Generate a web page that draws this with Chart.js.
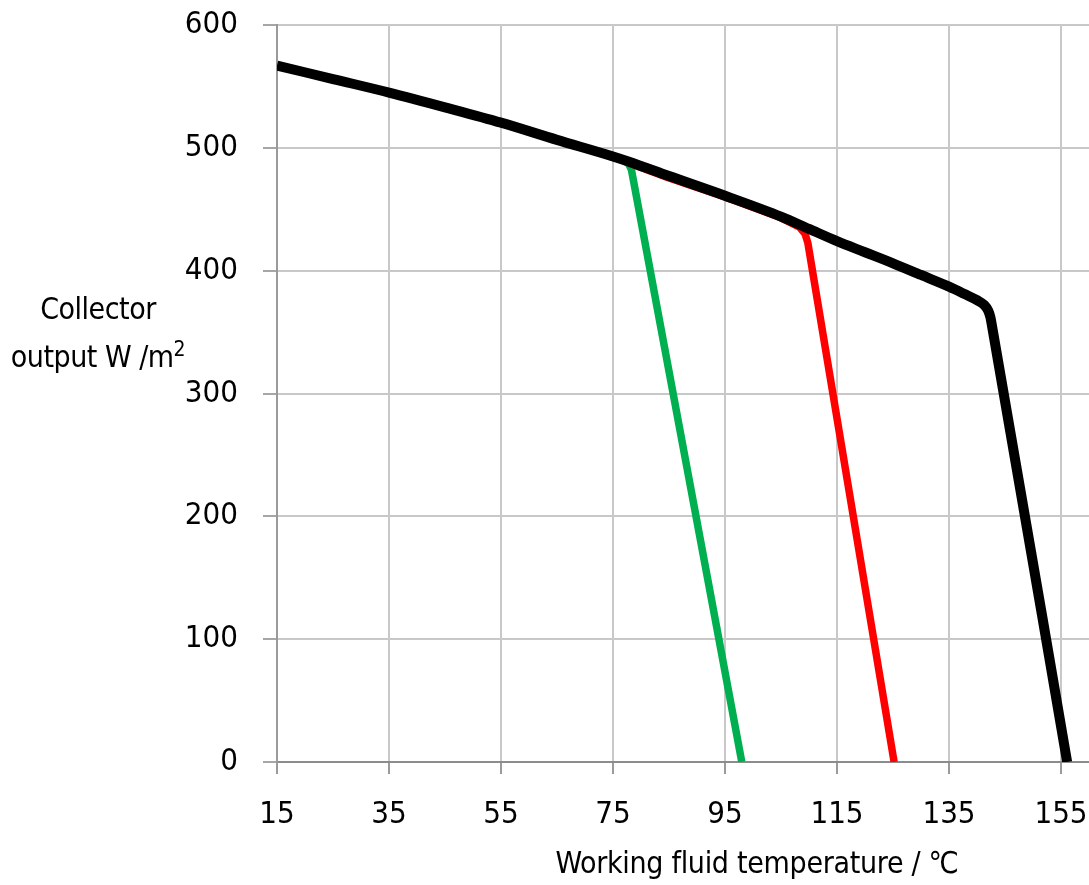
<!DOCTYPE html>
<html>
<head>
<meta charset="utf-8">
<script src="https://cdn.jsdelivr.net/npm/chart.js@4"></script>
<style>
  html, body { margin: 0; padding: 0; background: #ffffff; }
  #wrap { position: relative; width: 1089px; height: 885px; }
  canvas { position: absolute; left: 0; top: 0; }
  .lbl { position: absolute; font-family: "Liberation Sans Narrow", "DejaVu Sans Condensed", "Roboto", sans-serif; color: #000; white-space: nowrap; }
  #ytitle { left: 0; width: 196px; top: 285px; text-align: center; font-size: 30px; line-height: 48px; letter-spacing: -0.5px; }
  #xtitle { left: 457px; width: 600px; top: 841px; text-align: center; font-size: 30px; line-height: 44px; letter-spacing: -0.3px; }
</style>
</head>
<body>
<div id="wrap">
  <canvas id="c" width="1089" height="885"></canvas>
  <div class="lbl" id="ytitle">Collector<br>output W /m<sup style="font-size:21px;vertical-align:11px;line-height:0">2</sup></div>
  <div class="lbl" id="xtitle">Working fluid temperature / ℃</div>
</div>
<script>
// ---- data ----
const xTickValues = [15, 35, 55, 75, 95, 115, 135, 155];
const yTickValues = [0, 100, 200, 300, 400, 500, 600];

const blackX = [15, 25, 35, 45, 55, 65, 75, 78, 85, 95, 105, 110, 115, 120, 125, 130, 135, 138, 140, 141.3, 142, 142.4, 142.6, 156.1];
const blackY = [567, 556, 545, 533, 520.5, 506.5, 493, 488.5, 477, 461, 444, 434, 424, 415, 406, 396.5, 387, 380.5, 376, 372, 367.5, 362, 357, 0];

const redX = [77, 85, 95, 105, 108.3, 109.3, 109.8, 125.2];
const redY = [489, 475.5, 460, 443, 435.5, 430, 422.5, 0];

const greenX = [72, 75, 77.6, 78.3, 98.0];
const greenY = [497.5, 492.5, 489, 482, 0];

function pts(xs, ys) { return xs.map((x, i) => ({ x: x, y: ys[i] })); }

const FONT = "'Liberation Sans Narrow', 'DejaVu Sans Condensed', Roboto, sans-serif";

new Chart(document.getElementById('c'), {
  type: 'line',
  data: {
    datasets: [
      { label: 'black', data: pts(blackX, blackY), borderColor: '#000000', borderWidth: 10, cubicInterpolationMode: 'monotone' },
      { label: 'red', data: pts(redX, redY), borderColor: '#ff0000', borderWidth: 7.5 },
      { label: 'green', data: pts(greenX, greenY), borderColor: '#00b050', borderWidth: 7.5 }
    ]
  },
  options: {
    responsive: false,
    animation: false,
    devicePixelRatio: 1,
    parsing: false,
    elements: {
      point: { radius: 0, hoverRadius: 0 },
      line: { tension: 0, borderJoinStyle: 'round', borderCapStyle: 'butt', fill: false }
    },
    layout: { padding: { top: 25, right: 0, left: 0, bottom: 0 } },
    plugins: { legend: { display: false }, tooltip: { enabled: false } },
    scales: {
      x: {
        type: 'linear',
        min: 15,
        max: 160,
        afterBuildTicks: (s) => { s.ticks = xTickValues.map(v => ({ value: v })); },
        afterFit: (s) => { s.height = 123; s.paddingLeft = 0; s.paddingRight = 0; },
        grid: { color: '#c8c8c8', lineWidth: 2, tickColor: '#9a9a9a', tickLength: 12, tickWidth: 2 },
        border: { color: '#8c8c8c', width: 2 },
        ticks: { color: '#000', font: { family: FONT, size: 31 }, padding: 22, maxRotation: 0, autoSkip: false }
      },
      y: {
        type: 'linear',
        min: 0,
        max: 600,
        afterBuildTicks: (s) => { s.ticks = yTickValues.map(v => ({ value: v })); },
        afterFit: (s) => { s.width = 277; s.paddingTop = 0; s.paddingBottom = 0; },
        grid: { color: '#c8c8c8', lineWidth: 2, tickColor: '#a6a6a6', tickLength: 14, tickWidth: 2 },
        border: { color: '#9a9a9a', width: 2 },
        ticks: { color: '#000', font: { family: FONT, size: 31 }, padding: 25 }
      }
    }
  }
});
</script>
</body>
</html>
